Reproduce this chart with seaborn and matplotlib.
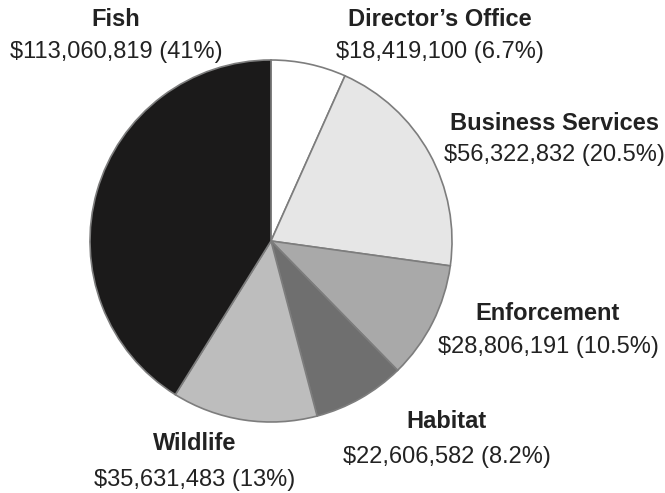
import matplotlib
matplotlib.use("Agg")
import matplotlib.pyplot as plt
import seaborn as sns

# Budget by division
divisions = ["Director\u2019s Office", "Business Services", "Enforcement",
             "Habitat", "Wildlife", "Fish"]
amounts = [18419100, 56322832, 28806191, 22606582, 35631483, 113060819]
shares = ["6.7%", "20.5%", "10.5%", "8.2%", "13%", "41%"]
shades = ["#ffffff", "#e6e6e6", "#a9a9a9", "#6f6f6f", "#bdbdbd", "#1b1a1a"]

# label anchor points (pixel x, pixel y from top) for name and amount lines
label_pos = [(440, 19, 52), (554, 123, 155), (548, 314, 347),
             (447, 421, 457), (195, 444, 480), (116, 19, 52)]

sns.set_theme(style="white")
plt.rcParams["font.family"] = ["Liberation Sans", "DejaVu Sans"]

W, H = 665, 493
fig = plt.figure(figsize=(W / 100, H / 100), dpi=100)
ax = fig.add_axes([0, 0, 1, 1])
ax.set_xlim(0, W)
ax.set_ylim(0, H)
ax.set_aspect("equal")
ax.axis("off")

ax.pie(amounts, colors=shades, startangle=90, counterclock=False,
       center=(271, H - 241), radius=181, frame=True,
       wedgeprops=dict(edgecolor="#7d7d7d", linewidth=1.2))
ax.set_xlim(0, W)
ax.set_ylim(0, H)
ax.axis("off")

txt = "#222222"
for name, amt, pct, (x, y1, y2) in zip(divisions, amounts, shares, label_pos):
    ax.text(x, H - y1, name, ha="center", va="center", fontsize=17,
            fontweight="bold", color=txt)
    ax.text(x, H - y2, f"${amt:,} ({pct})", ha="center", va="center",
            fontsize=17, color=txt)

fig.savefig("out.png", dpi=100, facecolor="white")
